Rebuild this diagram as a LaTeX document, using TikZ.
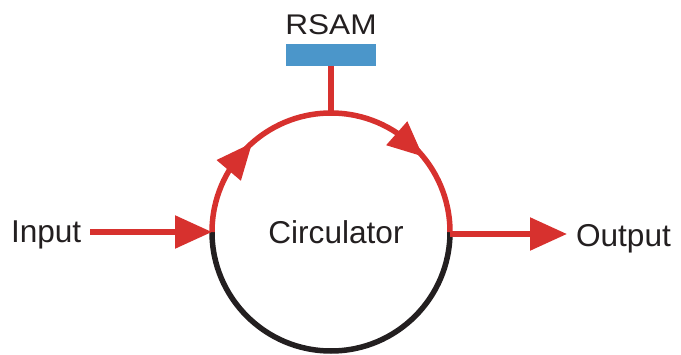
\documentclass[tikz,border=0pt]{standalone}
\usepackage{fontspec}
\setmainfont{Liberation Sans}
\usetikzlibrary{arrows.meta,decorations.markings,calc}
\definecolor{cred}{HTML}{D7312E}
\definecolor{cblue}{HTML}{4B96CA}
\definecolor{cblack}{HTML}{231F20}
\begin{document}
\begin{tikzpicture}[x=1pt,y=1pt,
  lbl/.style={font=\fontsize{31.6}{36}\selectfont, text=cblack, inner sep=0pt, outer sep=0pt},
  wire/.style={draw=cred, line width=5.5pt},
  ring/.style={draw=cblack, line width=5.5pt},
  big/.style={-{Triangle[length=37pt,width=32pt]}}]
\useasboundingbox (0,0) rectangle (681,354);
\node[circle, minimum size=238pt, lbl] (circ) at (331,122) {};
\node[lbl] (circlbl) at ($(circ.center)+(5,0)$) {Circulator};
\node[lbl, anchor=base west] (inp) at (11,111) {Input};
\node[lbl, anchor=base west] (out) at (576,107) {Output};
\node[fill=cblue, minimum width=90pt, minimum height=22pt, inner sep=0pt, outer sep=0pt] (rsam) at (331,299) {};
\node[lbl, anchor=base] (rsamlbl) at (331,319) {\scalebox{1}[0.9]{RSAM}};
% lower half
\draw[ring] (circ.east) arc[start angle=0, end angle=-180, radius=119];
% upper half with direction arrows
\draw[wire, postaction={decorate}, decoration={markings,
   mark=at position 0.269 with {\fill[cred, rotate=8] (0,0) -- (-36,16) -- (-36,-16) -- cycle;},
   mark=at position 0.781 with {\fill[cred, rotate=9] (0,0) -- (-35,16) -- (-35,-16) -- cycle;}}]
   (circ.west) arc[start angle=180, end angle=0, radius=119];
% stem
\draw[wire] (rsam.south) -- (circ.north);
% input and output
\coordinate (instart) at ($(inp.east |- circ.west)+(9,0)$);
\coordinate (outend) at ($(out.west |- circ.east)+(-9,-2)$);
\draw[wire, big] (instart) -- (circ.west);
\draw[wire, big] ($(circ.east)+(0,-2)$) -- (outend);
\end{tikzpicture}
\end{document}
